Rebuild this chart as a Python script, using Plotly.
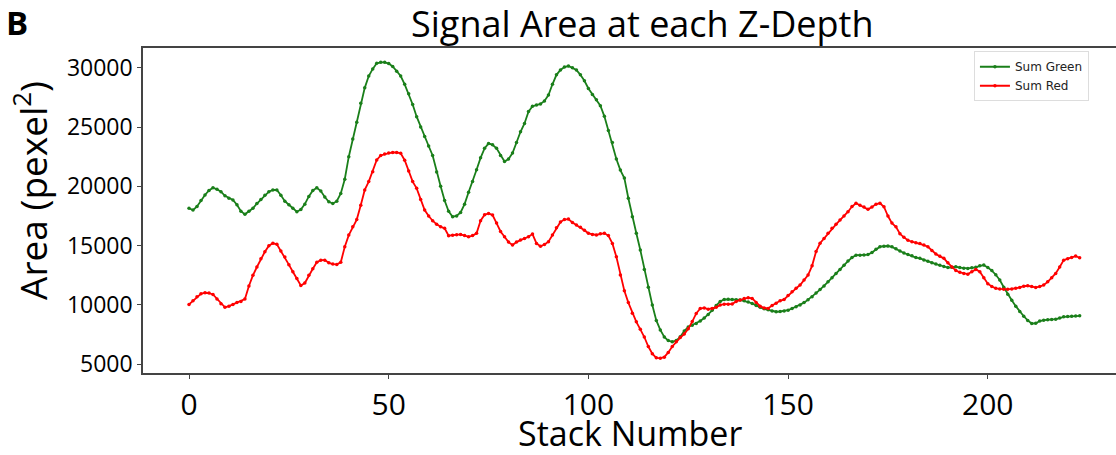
import plotly.graph_objects as go

stack = list(range(224))

sum_green = [
    18150, 18000, 18300, 18800, 19270, 19650, 19880, 19750, 19550, 19200,
    19000, 18850, 18450, 17900, 17640, 17900, 18150, 18550, 18900, 19250,
    19550, 19690, 19690, 19250, 18750, 18450, 18150, 17860, 18050, 18500,
    19150, 19650, 19880, 19600, 19100, 18700, 18550, 18750, 19400, 20600,
    22500, 24000, 25400, 27000, 28300, 29300, 29900, 30370, 30450, 30450,
    30350, 30100, 29700, 29300, 28600, 27800, 26900, 25870, 25000, 24200,
    23400, 22600, 21200, 20000, 18800, 17900, 17440, 17500, 17800, 18500,
    19500, 20400, 21400, 22400, 23200, 23620, 23500, 23200, 22600, 22100,
    22300, 22800, 23700, 24600, 25300, 26300, 26750, 26850, 26950, 27200,
    27700, 28600, 29400, 29810, 30050, 30140, 30000, 29810, 29400, 28900,
    28250, 27750, 27300, 26800, 25900, 24700, 23700, 22300, 21370, 20700,
    19000, 17440, 16040, 14630, 13000, 11500, 10000, 8700, 7900, 7300,
    7000, 6900, 7000, 7320, 7800, 8150, 8300, 8440, 8650, 8900,
    9200, 9550, 9950, 10300, 10470, 10480, 10470, 10450, 10420, 10350,
    10250, 10130, 9950, 9800, 9680, 9600, 9500, 9430, 9450, 9500,
    9560, 9700, 9850, 9990, 10200, 10450, 10690, 11000, 11300, 11600,
    11950, 12300, 12660, 13000, 13350, 13700, 14000, 14200, 14200, 14210,
    14250, 14420, 14700, 14910, 14950, 14970, 14900, 14750, 14550, 14380,
    14250, 14150, 14000, 13930, 13800, 13680, 13550, 13450, 13350, 13250,
    13150, 13180, 13220, 13150, 13100, 13080, 13130, 13170, 13300, 13360,
    13150, 12900, 12550, 12100, 11500, 10900, 10400, 9900, 9450, 9050,
    8700, 8440, 8450, 8650, 8720, 8750, 8770, 8800, 8900, 9000,
    9020, 9050, 9080, 9090,
]

sum_red = [
    10050, 10350, 10700, 10950, 11030, 11000, 10890, 10500, 10100, 9800,
    9900, 10050, 10200, 10300, 10500, 11600, 12500, 13200, 13900, 14490,
    15000, 15200, 15110, 14550, 14050, 13400, 12800, 12240, 11650, 11850,
    12500, 13050, 13600, 13780, 13780, 13550, 13450, 13420, 13600, 14910,
    15890, 16600, 17200, 18400, 19700, 20400, 21230, 22220, 22600, 22720,
    22800, 22850, 22860, 22780, 22200, 21300, 20400, 19830, 18900, 18000,
    17500, 17100, 16800, 16590, 16460, 15840, 15880, 15920, 15950, 15850,
    15750, 15850, 16040, 17100, 17600, 17720, 17580, 16900, 16200, 15750,
    15300, 15050, 15300, 15470, 15600, 15750, 15980, 15190, 14950, 15100,
    15330, 15900, 16500, 17000, 17200, 17240, 16950, 16750, 16550, 16300,
    16040, 15950, 15900, 16000, 16040, 15850, 15190, 14060, 12520, 11200,
    10200, 9300, 8580, 7950, 7300, 6500, 5900, 5550, 5520, 5600,
    6000, 6500, 6900, 7250, 7550, 8000, 8600, 9290, 9700, 9750,
    9650, 9700, 9800, 10000, 10070, 10070, 10080, 10300, 10410, 10550,
    10610, 10550, 10200, 9900, 9750, 9710, 9950, 10150, 10350, 10470,
    10800, 11110, 11400, 11680, 12100, 12520, 13300, 14500, 15200, 15610,
    16050, 16460, 16800, 17160, 17500, 17860, 18300, 18570, 18400, 18250,
    18060, 18250, 18500, 18570, 18280, 17500, 16900, 16590, 16000, 15700,
    15450, 15330, 15250, 15190, 15050, 14910, 14600, 14300, 14100, 13930,
    13550, 13200, 12900, 12750, 12650, 12600, 12800, 13000, 12800, 12300,
    11800, 11550, 11400, 11350, 11320, 11320, 11350, 11400, 11480, 11580,
    11620, 11550, 11480, 11550, 11680, 11950, 12300, 12660, 13200, 13780,
    13900, 14000, 14120, 13980,
]

x_ticks = [0, 50, 100, 150, 200]
y_ticks = [5000, 10000, 15000, 20000, 25000, 30000]
y_tick_labels = ["5000", "10000", "15000", "20000", "25000", "30000"]

FONT = "Open Sans"

fig = go.Figure()
fig.add_trace(go.Scatter(
    x=stack, y=sum_green, mode="lines+markers", name="Sum Green",
    line=dict(color="#1a7f1a", width=1.8),
    marker=dict(color="#1a7f1a", size=3.5),
))
fig.add_trace(go.Scatter(
    x=stack, y=sum_red, mode="lines+markers", name="Sum Red",
    line=dict(color="#ff0000", width=1.8),
    marker=dict(color="#ff0000", size=3.5),
))

fig.update_layout(
    width=1116, height=455,
    margin=dict(l=143, r=0, t=48, b=82),
    paper_bgcolor="white", plot_bgcolor="white",
    font=dict(family=FONT, color="black"),
    showlegend=True,
    legend=dict(
        x=0.854, xanchor="left", y=0.99, yanchor="top",
        bgcolor="white", bordercolor="#dddddd", borderwidth=1,
        font=dict(family="DejaVu Sans", size=12, color="#222222"),
        itemwidth=30, tracegroupgap=0,
    ),
    xaxis=dict(
        range=[-11.52, 232.1], tickvals=x_ticks,
        showgrid=False, zeroline=False,
        showline=True, linecolor="#444444", linewidth=1.5, mirror=True,
        ticks="outside", ticklen=4, tickcolor="#444444",
        tickfont=dict(family=FONT, size=30, color="black"),
    ),
    yaxis=dict(
        range=[4267, 31660], tickvals=y_ticks, ticktext=y_tick_labels,
        showgrid=False, zeroline=False,
        showline=True, linecolor="#444444", linewidth=1.5,
        ticks="outside", ticklen=4, tickcolor="#444444",
        tickfont=dict(family=FONT, size=23, color="black"),
    ),
    annotations=[
        dict(text="Signal Area at each Z-Depth", xref="paper", yref="paper",
             x=0.513, y=1.0, xanchor="center", yanchor="bottom", yshift=-2,
             showarrow=False, font=dict(family=FONT, size=36, color="black")),
        dict(text="Stack Number", xref="paper", yref="paper",
             x=0.5, y=0, xanchor="center", yanchor="top", yshift=-35,
             showarrow=False, font=dict(family=FONT, size=34, color="black")),
        dict(text="Area (pexel<sup>2</sup>)", xref="paper", yref="paper",
             x=0, y=0.56, xanchor="center", yanchor="middle", xshift=-112,
             textangle=-90,
             showarrow=False, font=dict(family=FONT, size=37, color="black")),
        dict(text="<b>B</b>", xref="paper", yref="paper",
             x=0, y=1, xanchor="left", yanchor="top", xshift=-139, yshift=50,
             showarrow=False, font=dict(family=FONT, size=33, color="black")),
    ],
)

fig.write_html(
    "out.html",
    config={"displayModeBar": False},
    post_script="document.body.style.margin='0';document.body.style.overflow='hidden';",
)
